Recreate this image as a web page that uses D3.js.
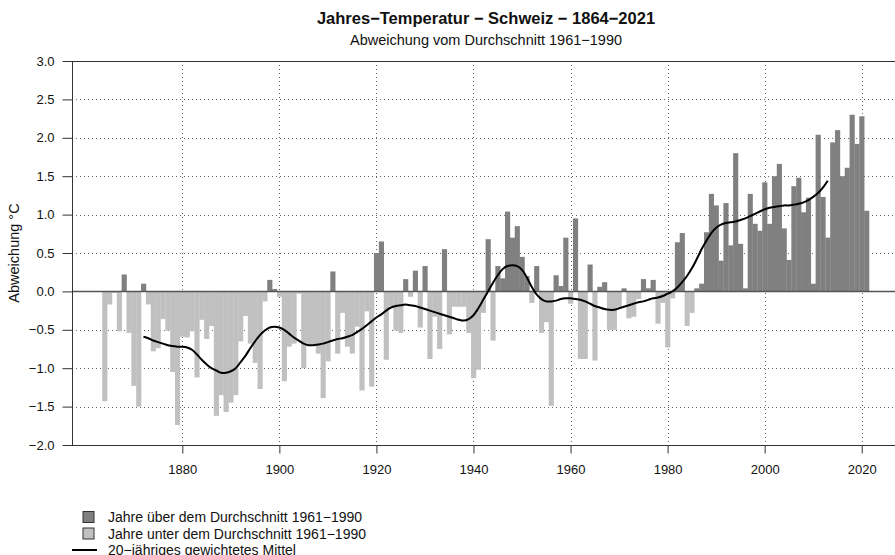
<!DOCTYPE html>
<html>
<head>
<meta charset="utf-8">
<script src="https://cdn.jsdelivr.net/npm/d3@7"></script>
<style>
  body { margin: 0; background: #fff; }
  svg { font-family: "Liberation Sans", Arial, sans-serif; }
</style>
</head>
<body>
<div class="chart"></div>
<script>
// Data: yearly deviation from 1961-1990 mean (°C)
const firstYear = 1864;
const anomalies = [
  -1.43, -0.17, -0.02, -0.52, 0.22, -0.54, -1.23, -1.50, 0.10, -0.17,   // 1864-1873
  -0.78, -0.74, -0.36, -0.51, -1.05, -1.74, -0.59, -0.60, -0.52, -1.12, // 1874-1883
  -0.37, -0.62, -0.45, -1.62, -1.35, -1.57, -1.45, -1.35, -0.65, -0.32, // 1884-1893
  -0.68, -0.93, -1.27, -0.13, 0.15, 0.03, -0.07, -1.17, -0.72, -0.68,   // 1894-1903
  -0.03, -1.00, -0.70, -0.70, -0.81, -1.39, -0.91, 0.26, -0.81, -0.28,  // 1904-1913
  -0.72, -0.81, -0.46, -1.29, -0.26, -1.24, 0.50, 0.65, -0.89, -0.19,   // 1914-1923
  -0.51, -0.54, 0.16, -0.07, 0.27, -0.47, 0.33, -0.88, -0.33, -0.75,    // 1924-1933
  0.55, -0.56, -0.20, -0.20, -0.20, -0.54, -1.13, -1.02, -0.28, 0.68,   // 1934-1943
  -0.64, 0.33, 0.17, 1.04, 0.70, 0.85, 0.45, 0.20, -0.15, 0.33,         // 1944-1953
  -0.54, -0.40, -1.49, 0.21, 0.07, 0.70, -0.16, 0.95, -0.88, -0.88,     // 1954-1963
  0.35, -0.90, 0.06, 0.12, -0.50, -0.50, -0.20, 0.04, -0.35, -0.33,     // 1964-1973
  -0.10, 0.16, 0.04, 0.15, -0.42, -0.15, -0.73, -0.09, 0.64, 0.76,      // 1974-1983
  -0.45, -0.28, 0.04, 0.10, 0.77, 1.27, 1.12, 0.40, 1.15, 0.60,         // 1984-1993
  1.80, 0.62, 0.04, 1.27, 0.88, 0.79, 1.42, 0.88, 1.50, 1.66,           // 1994-2003
  0.82, 0.41, 1.37, 1.48, 1.03, 1.22, 0.10, 2.04, 1.23, 0.70,           // 2004-2013
  1.94, 2.10, 1.50, 1.61, 2.30, 1.92, 2.28, 1.05                        // 2014-2021
];

// 20-year weighted mean, 1872-2013
const smoothFirstYear = 1872;
const smoothed = [
  -0.59, -0.61, -0.64, -0.66, -0.68, -0.70, -0.71, -0.72, -0.72, -0.73, // 1872-1881
  -0.76, -0.82, -0.89, -0.95, -1.00, -1.03, -1.06, -1.06, -1.04, -1.00, // 1882-1891
  -0.92, -0.84, -0.74, -0.65, -0.57, -0.51, -0.47, -0.46, -0.47, -0.50, // 1892-1901
  -0.55, -0.60, -0.64, -0.68, -0.70, -0.70, -0.69, -0.68, -0.66, -0.64, // 1902-1911
  -0.62, -0.61, -0.59, -0.57, -0.53, -0.49, -0.44, -0.39, -0.34, -0.30, // 1912-1921
  -0.25, -0.21, -0.19, -0.18, -0.17, -0.18, -0.19, -0.21, -0.23, -0.25, // 1922-1931
  -0.27, -0.29, -0.31, -0.33, -0.35, -0.37, -0.38, -0.36, -0.31, -0.22, // 1932-1941
  -0.11, 0.00, 0.11, 0.21, 0.29, 0.33, 0.34, 0.33, 0.28, 0.18,          // 1942-1951
  0.06, -0.04, -0.10, -0.13, -0.13, -0.12, -0.10, -0.09, -0.09, -0.10,  // 1952-1961
  -0.11, -0.13, -0.16, -0.19, -0.21, -0.23, -0.24, -0.24, -0.22, -0.20, // 1962-1971
  -0.18, -0.16, -0.14, -0.13, -0.11, -0.09, -0.08, -0.06, -0.03, 0.00,  // 1972-1981
  0.05, 0.12, 0.20, 0.30, 0.42, 0.55, 0.66, 0.76, 0.83, 0.87,           // 1982-1991
  0.89, 0.90, 0.91, 0.93, 0.95, 0.98, 1.01, 1.04, 1.07, 1.09,           // 1992-2001
  1.10, 1.11, 1.12, 1.12, 1.13, 1.14, 1.16, 1.19, 1.23, 1.28,           // 2002-2011
  1.35, 1.44                                                            // 2012-2013
];

const xTicks = [1880, 1900, 1920, 1940, 1960, 1980, 2000, 2020];
const yTicks = [-2.0, -1.5, -1.0, -0.5, 0.0, 0.5, 1.0, 1.5, 2.0, 2.5, 3.0];

const legendItems = [
  {type: 'box', color: '#808080', label: 'Jahre über dem Durchschnitt 1961−1990'},
  {type: 'box', color: '#c0c0c0', label: 'Jahre unter dem Durchschnitt 1961−1990'},
  {type: 'line', color: '#000', label: '20−jähriges gewichtetes Mittel'}
];

const width = 895, height = 555;
const area = {left: 72, right: 900, top: 61, bottom: 445};

const svg = d3.select('.chart')
  .append('svg')
  .attr('width', width)
  .attr('height', height);

const barData = anomalies.map((v, i) => ({year: firstYear + i, value: v}));
const lineData = smoothed.map((v, i) => ({year: smoothFirstYear + i, value: v}));

// Scales
const x = d3.scaleLinear()
  .domain([1880 - (182.3 - area.left) / 4.853, 1880 + (area.right - 182.3) / 4.853])
  .range([area.left, area.right]);
const y = d3.scaleLinear()
  .domain([-2, 3])
  .range([area.bottom, area.top]);

const fmt = v => d3.format('.1f')(v).replace('-', '−');

// Grid
const grid = svg.append('g').attr('class', 'grid');
grid.selectAll('.hgrid')
  .data(yTicks.filter(t => t !== 0 && t !== -2 && t !== 3))
  .enter().append('line')
  .attr('x1', area.left).attr('x2', area.right)
  .attr('y1', d => Math.round(y(d)) + 0.5).attr('y2', d => Math.round(y(d)) + 0.5)
  .attr('stroke', '#666').attr('stroke-width', 1)
  .attr('stroke-dasharray', '1,3');
grid.selectAll('.vgrid')
  .data(xTicks)
  .enter().append('line')
  .attr('x1', d => Math.round(x(d)) + 0.5).attr('x2', d => Math.round(x(d)) + 0.5)
  .attr('y1', area.top).attr('y2', area.bottom)
  .attr('stroke', '#666').attr('stroke-width', 1)
  .attr('stroke-dasharray', '1,3');

// Bars
svg.append('g')
  .selectAll('.bar')
  .data(barData)
  .enter().append('rect')
  .attr('class', 'bar')
  .attr('x', d => x(d.year - 0.5))
  .attr('width', d => x(d.year + 0.5) - x(d.year - 0.5) + 0.3)
  .attr('y', d => y(Math.max(0, d.value)))
  .attr('height', d => Math.abs(y(d.value) - y(0)))
  .style('fill', d => d.value >= 0 ? '#808080' : '#c0c0c0');

// Zero line
svg.append('line')
  .attr('x1', area.left).attr('x2', area.right)
  .attr('y1', y(0)).attr('y2', y(0))
  .attr('stroke', '#555').attr('stroke-width', 1.5);

// Smoothed line
const lineGenerator = d3.line()
  .x(d => x(d.year))
  .y(d => y(d.value))
  .curve(d3.curveCatmullRom);
svg.append('path')
  .datum(lineData)
  .attr('d', lineGenerator)
  .style('fill', 'none')
  .attr('stroke', '#000')
  .attr('stroke-width', 2);

// Frame
const frame = svg.append('g').attr('stroke', '#333').attr('stroke-width', 1);
frame.append('line').attr('x1', area.left).attr('x2', area.right).attr('y1', area.top + 0.5).attr('y2', area.top + 0.5);
frame.append('line').attr('x1', area.left).attr('x2', area.right).attr('y1', area.bottom + 0.5).attr('y2', area.bottom + 0.5);
frame.append('line').attr('x1', area.left + 0.5).attr('x2', area.left + 0.5).attr('y1', area.top).attr('y2', area.bottom + 0.5);

// Axes
const axisY = d3.axisLeft(y).tickValues(yTicks).tickFormat(fmt).tickSize(10).tickPadding(8);
const gy = svg.append('g')
  .attr('transform', `translate(${area.left + 0.5},0)`)
  .call(axisY);
gy.select('.domain').remove();
gy.selectAll('line').attr('stroke', '#333');
gy.selectAll('text').attr('font-size', 13).attr('fill', '#111')
  .attr('font-family', '"Liberation Sans", Arial, sans-serif');

const axisX = d3.axisBottom(x).tickValues(xTicks).tickFormat(d3.format('d')).tickSize(8).tickPadding(11);
const gx = svg.append('g')
  .attr('transform', `translate(0,${area.bottom + 0.5})`)
  .call(axisX);
gx.select('.domain').remove();
gx.selectAll('line').attr('stroke', '#333');
gx.selectAll('text').attr('font-size', 13).attr('fill', '#111')
  .attr('font-family', '"Liberation Sans", Arial, sans-serif');

// Axis label
svg.append('text')
  .attr('transform', `translate(19,${(area.top + area.bottom) / 2}) rotate(-90)`)
  .attr('text-anchor', 'middle')
  .attr('font-size', 14.5)
  .attr('fill', '#111')
  .text('Abweichung °C');

// Titles
svg.append('text')
  .attr('x', 486).attr('y', 24)
  .attr('text-anchor', 'middle')
  .attr('font-size', 16.5)
  .attr('font-weight', 'bold')
  .attr('fill', '#111')
  .text('Jahres−Temperatur − Schweiz − 1864−2021');
svg.append('text')
  .attr('x', 486).attr('y', 45)
  .attr('text-anchor', 'middle')
  .attr('font-size', 14.5)
  .attr('fill', '#111')
  .text('Abweichung vom Durchschnitt 1961−1990');

// Legend
const legend = svg.append('g').attr('transform', 'translate(0,517)');
legendItems.forEach((item, i) => {
  const g = legend.append('g').attr('transform', `translate(0,${i * 16.5})`);
  if (item.type === 'box') {
    g.append('rect')
      .attr('x', 83).attr('y', -5.5).attr('width', 11).attr('height', 11)
      .attr('fill', item.color).attr('stroke', '#333').attr('stroke-width', 1);
  } else {
    g.append('line')
      .attr('x1', 72).attr('x2', 97).attr('y1', 0).attr('y2', 0)
      .attr('stroke', item.color).attr('stroke-width', 2);
  }
  g.append('text')
    .attr('x', 108).attr('y', 5)
    .attr('font-size', 14)
    .attr('fill', '#111')
    .text(item.label);
});
</script>
</body>
</html>
